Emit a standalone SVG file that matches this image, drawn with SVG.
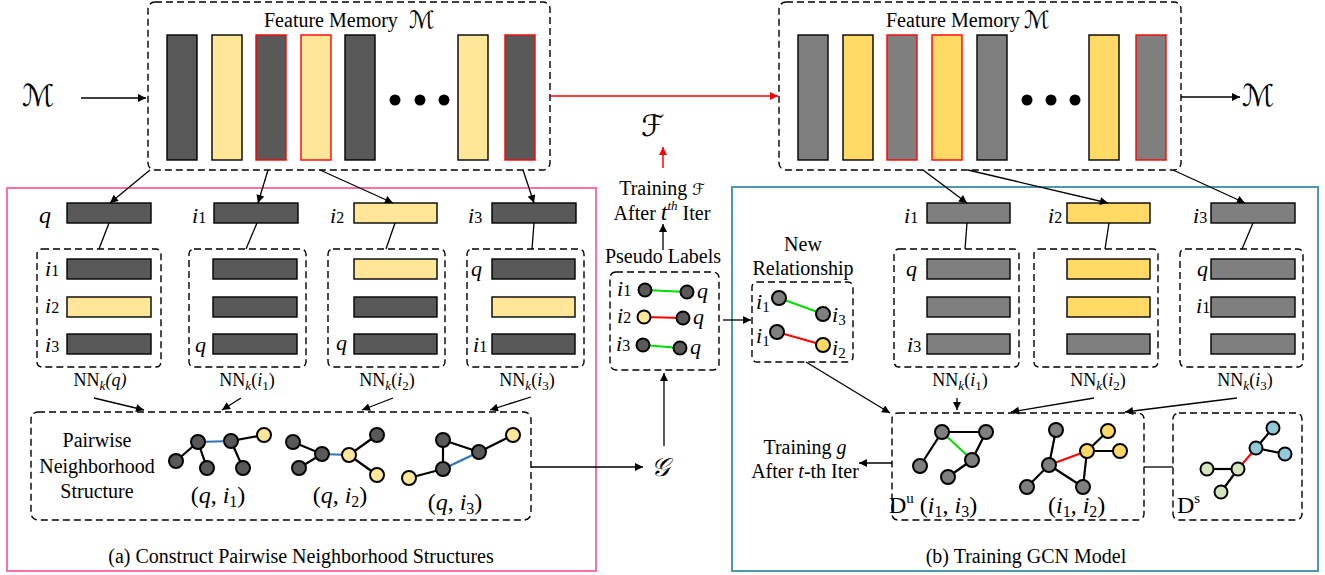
<svg xmlns="http://www.w3.org/2000/svg" width="1325" height="575" viewBox="0 0 1325 575" font-family="'Liberation Serif', 'DejaVu Serif', serif">
<defs>
<marker id="ah" viewBox="0 0 10 10" refX="10" refY="5" markerWidth="10" markerHeight="8" markerUnits="userSpaceOnUse" orient="auto"><path d="M0,0 L10,5 L0,10 z" fill="#000"/></marker>
<marker id="ahr" viewBox="0 0 10 10" refX="10" refY="5" markerWidth="10" markerHeight="8" markerUnits="userSpaceOnUse" orient="auto"><path d="M0,0 L10,5 L0,10 z" fill="#f00"/></marker>
<style>
text{font-family:'Liberation Serif','DejaVu Serif',serif;fill:#000}
.t20{font-size:20px}
.t18{font-size:18px}
.it{font-style:italic}
.sc{font-family:'DejaVu Serif','DejaVu Sans',serif;font-style:italic}
.dash{fill:none;stroke:#000;stroke-width:1.4;stroke-dasharray:7 4}
.bar{stroke:#000;stroke-width:1.4}
.dk{fill:#595959}
.ly{fill:#FFE699}
.gr{fill:#7F7F7F}
.yl{fill:#FFD966}
.rs{stroke:#f00}
.ln{stroke:#000;stroke-width:1.3;fill:none}
.ar{stroke:#000;stroke-width:1.3;fill:none;marker-end:url(#ah)}
.arr{stroke:#f00;stroke-width:1.5;fill:none;marker-end:url(#ahr)}
.e{stroke:#000;stroke-width:2.2}
.eb{stroke:#2E75B6;stroke-width:2.2}
.eg{stroke:#00DD00;stroke-width:2}
.er{stroke:#f00;stroke-width:2}
.n{stroke:#000;stroke-width:2}
.bl{fill:#8FC9DA}
.gn{fill:#D5E3BF}
</style>
</defs>
<rect width="1325" height="575" fill="#fff"/>

<g id="panel-a">
<rect x="7" y="188" width="589" height="383" fill="none" stroke="#FF6F9F" stroke-width="2"/>
<text class="t20" x="301" y="563" text-anchor="middle">(a)  Construct Pairwise Neighborhood Structures</text>
</g>
<g id="panel-b">
<rect x="732" y="187" width="586" height="384" fill="none" stroke="#4C98AE" stroke-width="2"/>
<text class="t20" x="1026" y="563" text-anchor="middle">(b) Training GCN Model</text>
</g>

<g id="memory-left">
<rect class="dash" x="148" y="2" width="402" height="168" rx="7"/>
<text class="t20" x="264" y="27">Feature Memory</text>
<text class="sc" x="409" y="28" font-size="24">ℳ</text>
<rect class="bar dk" x="167" y="35" width="30" height="125" stroke="#C85050"/>
<rect class="bar ly" x="212" y="35" width="30" height="125"/>
<rect class="bar dk rs" x="256" y="35" width="30" height="125"/>
<rect class="bar ly rs" x="301" y="35" width="30" height="125"/>
<rect class="bar dk" x="345" y="35" width="30" height="125"/>
<circle cx="395" cy="100" r="5.5"/><circle cx="420" cy="100" r="5.5"/><circle cx="444" cy="100" r="5.5"/>
<rect class="bar ly" x="458" y="35" width="30" height="125"/>
<rect class="bar dk rs" x="505" y="35" width="30" height="125"/>
</g>

<g id="memory-right">
<rect class="dash" x="779" y="2" width="402" height="168" rx="7"/>
<text class="t20" x="886" y="27">Feature Memory</text>
<text class="sc" x="1024" y="28" font-size="24">ℳ</text>
<rect class="bar gr" x="798" y="35" width="30" height="125"/>
<rect class="bar yl" x="843" y="35" width="30" height="125"/>
<rect class="bar gr rs" x="887" y="35" width="30" height="125"/>
<rect class="bar yl rs" x="932" y="35" width="30" height="125"/>
<rect class="bar gr" x="977" y="35" width="30" height="125"/>
<circle cx="1027" cy="100" r="5.5"/><circle cx="1051" cy="100" r="5.5"/><circle cx="1075" cy="100" r="5.5"/>
<rect class="bar yl" x="1089" y="35" width="30" height="125"/>
<rect class="bar gr rs" x="1136" y="35" width="30" height="125"/>
</g>

<g id="labels-top">
<text class="sc" x="22" y="106" font-size="30">ℳ</text>
<text class="sc" x="1242" y="106" font-size="30">ℳ</text>
<text class="sc" x="641" y="136" font-size="30">ℱ</text>
<text class="t20" x="662" y="195" text-anchor="middle">Training <tspan class="sc" font-size="16">ℱ</tspan></text>
<text class="t20" x="662" y="220" text-anchor="middle">After <tspan class="it" font-size="24">t</tspan><tspan class="it" font-size="13" dy="-10">th</tspan><tspan dy="10"> Iter</tspan></text>
<text class="t20" x="663" y="263" text-anchor="middle">Pseudo Labels</text>
<text class="sc" x="651" y="476" font-size="26">𝒢</text>
</g>

<g id="pseudo-labels">
<rect class="dash" x="610" y="272" width="109" height="98" rx="6"/>
<line class="eg" x1="645" y1="290" x2="687" y2="292"/>
<line class="er" x1="644" y1="317" x2="683" y2="318"/>
<line class="eg" x1="643" y1="345" x2="680" y2="348"/>
<circle class="n dk" cx="645" cy="290" r="6.5"/><circle class="n dk" cx="687" cy="292" r="6.5"/>
<circle class="n ly" cx="644" cy="317" r="6.5"/><circle class="n dk" cx="683" cy="318" r="6.5"/>
<circle class="n dk" cx="643" cy="345" r="6.5"/><circle class="n dk" cx="680" cy="348" r="6.5"/>
<text x="617" y="296"><tspan class="it" font-size="22">i</tspan><tspan font-size="16">1</tspan></text>
<text x="617" y="323"><tspan class="it" font-size="22">i</tspan><tspan font-size="16">2</tspan></text>
<text x="616" y="351"><tspan class="it" font-size="22">i</tspan><tspan font-size="16">3</tspan></text>
<text class="it" x="697" y="298" font-size="22">q</text>
<text class="it" x="693" y="324" font-size="22">q</text>
<text class="it" x="690" y="354" font-size="22">q</text>
</g>

<g id="col-q">
<text class="it" x="39" y="223" font-size="24">q</text>
<rect class="bar dk" x="67" y="203" width="84" height="20"/>
<rect class="dash" x="37" y="249" width="124" height="118" rx="5"/>
<rect class="bar dk" x="67" y="259" width="84" height="20"/>
<rect class="bar ly" x="67" y="297" width="84" height="20"/>
<rect class="bar dk" x="67" y="334" width="84" height="20"/>
<text x="45" y="276"><tspan class="it" font-size="22">i</tspan><tspan font-size="16">1</tspan></text>
<text x="45" y="313"><tspan class="it" font-size="22">i</tspan><tspan font-size="16">2</tspan></text>
<text x="45" y="352"><tspan class="it" font-size="22">i</tspan><tspan font-size="16">3</tspan></text>
<text class="t18" x="100" y="386" text-anchor="middle">NN<tspan class="it" font-size="13" dy="4">k</tspan><tspan class="it" dy="-4">(q)</tspan></text>
</g>
<g id="col-i1">
<text x="192" y="223"><tspan class="it" font-size="22">i</tspan><tspan font-size="16">1</tspan></text>
<rect class="bar dk" x="214" y="203" width="84" height="20"/>
<rect class="dash" x="189" y="249" width="117" height="118" rx="5"/>
<rect class="bar dk" x="213" y="259" width="84" height="20"/>
<rect class="bar dk" x="213" y="297" width="84" height="20"/>
<rect class="bar dk" x="213" y="334" width="84" height="20"/>
<text class="it" x="195" y="352" font-size="22">q</text>
<text class="t18" x="247" y="386" text-anchor="middle">NN<tspan class="it" font-size="13" dy="4">k</tspan><tspan dy="-4">(</tspan><tspan class="it">i</tspan><tspan font-size="13" dy="4">1</tspan><tspan dy="-4">)</tspan></text>
</g>
<g id="col-i2">
<text x="330" y="223"><tspan class="it" font-size="22">i</tspan><tspan font-size="16">2</tspan></text>
<rect class="bar ly" x="354" y="203" width="83" height="20"/>
<rect class="dash" x="328" y="249" width="117" height="118" rx="5"/>
<rect class="bar ly" x="354" y="259" width="83" height="20"/>
<rect class="bar dk" x="354" y="297" width="83" height="20"/>
<rect class="bar dk" x="354" y="334" width="83" height="20"/>
<text class="it" x="336" y="350" font-size="22">q</text>
<text class="t18" x="387" y="386" text-anchor="middle">NN<tspan class="it" font-size="13" dy="4">k</tspan><tspan dy="-4">(</tspan><tspan class="it">i</tspan><tspan font-size="13" dy="4">2</tspan><tspan dy="-4">)</tspan></text>
</g>
<g id="col-i3">
<text x="468" y="223"><tspan class="it" font-size="22">i</tspan><tspan font-size="16">3</tspan></text>
<rect class="bar dk" x="492" y="203" width="84" height="20"/>
<rect class="dash" x="467" y="249" width="117" height="118" rx="5"/>
<rect class="bar dk" x="492" y="259" width="83" height="20"/>
<rect class="bar ly" x="492" y="297" width="83" height="20"/>
<rect class="bar dk" x="492" y="334" width="83" height="20"/>
<text class="it" x="471" y="276" font-size="22">q</text>
<text x="473" y="352"><tspan class="it" font-size="22">i</tspan><tspan font-size="16">1</tspan></text>
<text class="t18" x="527" y="386" text-anchor="middle">NN<tspan class="it" font-size="13" dy="4">k</tspan><tspan dy="-4">(</tspan><tspan class="it">i</tspan><tspan font-size="13" dy="4">3</tspan><tspan dy="-4">)</tspan></text>
</g>

<g id="pairwise">
<rect class="dash" x="31" y="412" width="500" height="108" rx="7"/>
<text class="t20" x="97" y="447" text-anchor="middle">Pairwise</text>
<text class="t20" x="97" y="473" text-anchor="middle">Neighborhood</text>
<text class="t20" x="97" y="498" text-anchor="middle">Structure</text>
<line class="e" x1="176" y1="461" x2="198" y2="442"/><line class="e" x1="198" y1="442" x2="207" y2="468"/>
<line class="eb" x1="198" y1="442" x2="231" y2="441"/><line class="e" x1="231" y1="441" x2="264" y2="435"/><line class="e" x1="231" y1="441" x2="243" y2="468"/>
<circle class="n dk" cx="176" cy="461" r="7"/><circle class="n dk" cx="198" cy="442" r="7"/><circle class="n dk" cx="207" cy="468" r="7"/>
<circle class="n dk" cx="231" cy="441" r="7"/><circle class="n ly" cx="264" cy="435" r="7"/><circle class="n dk" cx="243" cy="468" r="7"/>
<line class="e" x1="293" y1="442" x2="322" y2="454"/><line class="e" x1="299" y1="468" x2="322" y2="454"/>
<line class="eb" x1="322" y1="454" x2="349" y2="455"/><line class="e" x1="349" y1="455" x2="377" y2="435"/><line class="e" x1="349" y1="455" x2="377" y2="475"/>
<circle class="n dk" cx="293" cy="442" r="7"/><circle class="n dk" cx="322" cy="454" r="7"/><circle class="n dk" cx="299" cy="468" r="7"/>
<circle class="n ly" cx="349" cy="455" r="7"/><circle class="n dk" cx="377" cy="435" r="7"/><circle class="n ly" cx="377" cy="475" r="7"/>
<line class="e" x1="443" y1="440" x2="479" y2="452"/><line class="e" x1="479" y1="452" x2="513" y2="435"/>
<line class="e" x1="443" y1="440" x2="443" y2="469"/><line class="e" x1="443" y1="469" x2="409" y2="478"/><line class="eb" x1="443" y1="469" x2="479" y2="452"/>
<circle class="n dk" cx="443" cy="440" r="7"/><circle class="n dk" cx="479" cy="452" r="7"/><circle class="n ly" cx="513" cy="435" r="7"/>
<circle class="n dk" cx="443" cy="469" r="7"/><circle class="n ly" cx="409" cy="478" r="7"/>
<text x="218" y="503" text-anchor="middle" font-size="24">(<tspan class="it">q</tspan>, <tspan class="it">i</tspan><tspan font-size="16" dy="4">1</tspan><tspan dy="-4">)</tspan></text>
<text x="340" y="503" text-anchor="middle" font-size="24">(<tspan class="it">q</tspan>, <tspan class="it">i</tspan><tspan font-size="16" dy="4">2</tspan><tspan dy="-4">)</tspan></text>
<text x="455" y="510" text-anchor="middle" font-size="24">(<tspan class="it">q</tspan>, <tspan class="it">i</tspan><tspan font-size="16" dy="4">3</tspan><tspan dy="-4">)</tspan></text>
</g>

<g id="new-relationship">
<text class="t20" x="803" y="251" text-anchor="middle">New</text>
<text class="t20" x="803" y="275" text-anchor="middle">Relationship</text>
<rect class="dash" x="752" y="282" width="101" height="80" rx="5"/>
<line class="eg" x1="779" y1="298" x2="823" y2="314"/>
<line class="er" x1="777" y1="332" x2="823" y2="345"/>
<circle class="n gr" cx="779" cy="298" r="7"/><circle class="n gr" cx="823" cy="314" r="7"/>
<circle class="n gr" cx="777" cy="332" r="7"/><circle class="n yl" cx="823" cy="345" r="7"/>
<text x="756" y="309"><tspan class="it" font-size="22">i</tspan><tspan font-size="15" dy="3">1</tspan></text>
<text x="832" y="322"><tspan class="it" font-size="22">i</tspan><tspan font-size="15" dy="3">3</tspan></text>
<text x="756" y="343"><tspan class="it" font-size="22">i</tspan><tspan font-size="15" dy="3">1</tspan></text>
<text x="832" y="355"><tspan class="it" font-size="22">i</tspan><tspan font-size="15" dy="3">2</tspan></text>
</g>

<g id="rcol-i1">
<text x="904" y="223"><tspan class="it" font-size="22">i</tspan><tspan font-size="16">1</tspan></text>
<rect class="bar gr" x="927" y="203" width="83" height="20"/>
<rect class="dash" x="894" y="249" width="125" height="118" rx="5"/>
<rect class="bar gr" x="927" y="259" width="83" height="20"/>
<rect class="bar gr" x="927" y="297" width="83" height="20"/>
<rect class="bar gr" x="927" y="334" width="83" height="20"/>
<text class="it" x="906" y="276" font-size="22">q</text>
<text x="907" y="352"><tspan class="it" font-size="22">i</tspan><tspan font-size="16">3</tspan></text>
<text class="t18" x="960" y="386" text-anchor="middle">NN<tspan class="it" font-size="13" dy="4">k</tspan><tspan dy="-4">(</tspan><tspan class="it">i</tspan><tspan font-size="13" dy="4">1</tspan><tspan dy="-4">)</tspan></text>
</g>
<g id="rcol-i2">
<text x="1048" y="223"><tspan class="it" font-size="22">i</tspan><tspan font-size="16">2</tspan></text>
<rect class="bar yl" x="1067" y="203" width="83" height="20"/>
<rect class="dash" x="1034" y="249" width="124" height="118" rx="5"/>
<rect class="bar yl" x="1067" y="259" width="83" height="20"/>
<rect class="bar yl" x="1067" y="297" width="83" height="20"/>
<rect class="bar gr" x="1067" y="334" width="83" height="20"/>
<text class="t18" x="1098" y="386" text-anchor="middle">NN<tspan class="it" font-size="13" dy="4">k</tspan><tspan dy="-4">(</tspan><tspan class="it">i</tspan><tspan font-size="13" dy="4">2</tspan><tspan dy="-4">)</tspan></text>
</g>
<g id="rcol-i3">
<text x="1193" y="223"><tspan class="it" font-size="22">i</tspan><tspan font-size="16">3</tspan></text>
<rect class="bar gr" x="1211" y="203" width="84" height="20"/>
<rect class="dash" x="1180" y="249" width="123" height="118" rx="5"/>
<rect class="bar gr" x="1211" y="259" width="84" height="20"/>
<rect class="bar gr" x="1211" y="297" width="84" height="20"/>
<rect class="bar gr" x="1211" y="334" width="84" height="20"/>
<text class="it" x="1197" y="276" font-size="22">q</text>
<text x="1196" y="313"><tspan class="it" font-size="22">i</tspan><tspan font-size="16">1</tspan></text>
<text class="t18" x="1245" y="386" text-anchor="middle">NN<tspan class="it" font-size="13" dy="4">k</tspan><tspan dy="-4">(</tspan><tspan class="it">i</tspan><tspan font-size="13" dy="4">3</tspan><tspan dy="-4">)</tspan></text>
</g>

<g id="du">
<rect class="dash" x="892" y="413" width="252" height="107" rx="6"/>
<line class="e" x1="942" y1="432" x2="986" y2="432"/><line class="e" x1="986" y1="432" x2="972" y2="460"/>
<line class="eg" x1="942" y1="432" x2="972" y2="460"/><line class="e" x1="942" y1="432" x2="920" y2="466"/><line class="e" x1="972" y1="460" x2="948" y2="477"/>
<circle class="n gr" cx="942" cy="432" r="7"/><circle class="n gr" cx="986" cy="432" r="7"/><circle class="n gr" cx="972" cy="460" r="7"/>
<circle class="n gr" cx="920" cy="466" r="7"/><circle class="n gr" cx="948" cy="477" r="7"/>
<line class="e" x1="1056" y1="430" x2="1049" y2="465"/><line class="er" x1="1049" y1="465" x2="1087" y2="451"/>
<line class="e" x1="1087" y1="451" x2="1108" y2="431"/><line class="e" x1="1087" y1="451" x2="1120" y2="451"/><line class="e" x1="1087" y1="451" x2="1083" y2="487"/>
<line class="e" x1="1049" y1="465" x2="1083" y2="487"/><line class="e" x1="1049" y1="465" x2="1027" y2="487"/>
<circle class="n gr" cx="1056" cy="430" r="7"/><circle class="n gr" cx="1049" cy="465" r="7"/><circle class="n yl" cx="1087" cy="451" r="7"/>
<circle class="n yl" cx="1108" cy="431" r="7"/><circle class="n yl" cx="1120" cy="451" r="7"/><circle class="n gr" cx="1083" cy="487" r="7"/><circle class="n gr" cx="1027" cy="487" r="7"/>
<text x="889" y="513" font-size="24">D<tspan font-size="15" dy="-10">u</tspan><tspan dy="10"> (</tspan><tspan class="it">i</tspan><tspan font-size="16" dy="4">1</tspan><tspan dy="-4">, </tspan><tspan class="it">i</tspan><tspan font-size="16" dy="4">3</tspan><tspan dy="-4">)</tspan></text>
<text x="1048" y="513" font-size="24">(<tspan class="it">i</tspan><tspan font-size="16" dy="4">1</tspan><tspan dy="-4">, </tspan><tspan class="it">i</tspan><tspan font-size="16" dy="4">2</tspan><tspan dy="-4">)</tspan></text>
</g>

<g id="ds">
<rect class="dash" x="1173" y="413" width="129" height="107" rx="6"/>
<line class="e" x1="1273" y1="428" x2="1256" y2="448"/><line class="e" x1="1256" y1="448" x2="1285" y2="454"/>
<line class="er" x1="1256" y1="448" x2="1238" y2="469"/><line class="e" x1="1238" y1="469" x2="1207" y2="469"/><line class="e" x1="1238" y1="469" x2="1221" y2="492"/>
<circle class="n bl" cx="1273" cy="428" r="6.5"/><circle class="n bl" cx="1256" cy="448" r="6.5"/><circle class="n bl" cx="1285" cy="454" r="6.5"/>
<circle class="n gn" cx="1238" cy="469" r="6.5"/><circle class="n gn" cx="1207" cy="469" r="6.5"/><circle class="n gn" cx="1221" cy="492" r="6.5"/>
<text x="1177" y="513" font-size="24">D<tspan font-size="15" dy="-10">s</tspan></text>
</g>

<g id="train-g">
<text class="t20" x="805" y="454" text-anchor="middle">Training <tspan class="it">g</tspan></text>
<text class="t20" x="805" y="478" text-anchor="middle">After <tspan class="it">t</tspan>-th Iter</text>
</g>

<g id="connectors">
<line class="ar" x1="81" y1="98" x2="146" y2="98"/>
<line class="ar" x1="1181" y1="97" x2="1240" y2="97"/>
<line class="arr" x1="550" y1="96" x2="778" y2="96"/>
<line class="arr" x1="663" y1="168" x2="663" y2="147"/>
<line class="ar" x1="663" y1="250" x2="663" y2="224"/>
<line class="ar" x1="723" y1="320" x2="751" y2="320"/>
<line class="ar" x1="664" y1="446" x2="664" y2="373"/>
<line class="ar" x1="531" y1="467" x2="643" y2="467"/>
<line class="ar" x1="150" y1="170" x2="110" y2="203"/>
<line class="ar" x1="268" y1="170" x2="258" y2="203"/>
<line class="ar" x1="320" y1="170" x2="393" y2="203"/>
<line class="ar" x1="523" y1="170" x2="534" y2="203"/>
<line class="ln" x1="109" y1="223" x2="99" y2="249"/>
<line class="ln" x1="257" y1="223" x2="246" y2="249"/>
<line class="ln" x1="395" y1="223" x2="386" y2="249"/>
<line class="ln" x1="534" y1="223" x2="532" y2="249"/>
<line class="ar" x1="94" y1="398" x2="144" y2="410"/>
<line class="ar" x1="241" y1="398" x2="222" y2="410"/>
<line class="ar" x1="393" y1="398" x2="362" y2="410"/>
<line class="ar" x1="531" y1="397" x2="490" y2="410"/>
<line class="ar" x1="923" y1="170" x2="967" y2="203"/>
<line class="ar" x1="968" y1="170" x2="1108" y2="203"/>
<line class="ar" x1="1173" y1="170" x2="1245" y2="203"/>
<line class="ln" x1="967" y1="223" x2="965" y2="249"/>
<line class="ln" x1="1109" y1="223" x2="1105" y2="249"/>
<line class="ln" x1="1253" y1="223" x2="1242" y2="249"/>
<line class="ar" x1="957" y1="398" x2="957" y2="410"/>
<line class="ar" x1="1094" y1="398" x2="1011" y2="412"/>
<line class="ar" x1="1237" y1="398" x2="1125" y2="412"/>
<line class="ar" x1="806" y1="362" x2="890" y2="413"/>
<line class="ar" x1="892" y1="463" x2="859" y2="463"/>
<line class="ln" x1="1144" y1="467" x2="1173" y2="467"/>
</g>
</svg>
